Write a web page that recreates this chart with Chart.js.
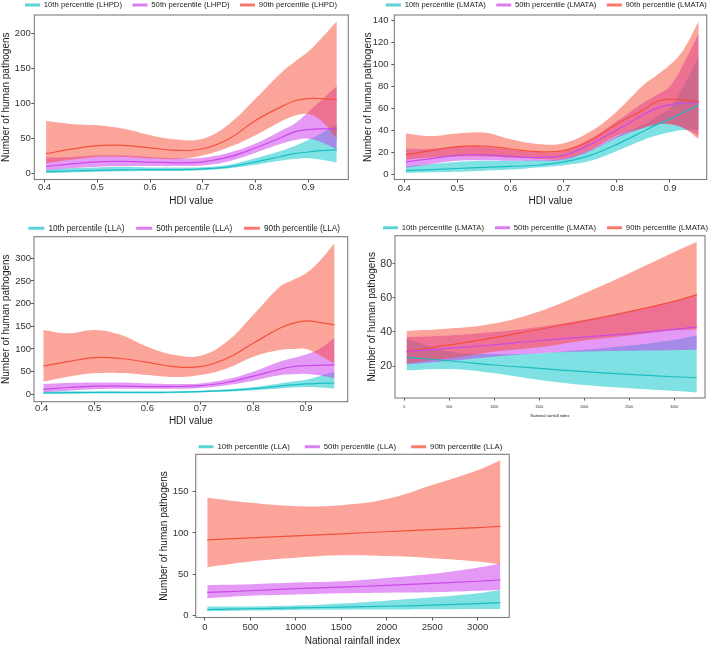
<!DOCTYPE html>
<html><head><meta charset="utf-8">
<script src="https://cdn.jsdelivr.net/npm/chart.js@4.4.1/dist/chart.umd.min.js"></script>
<style>
html,body{margin:0;padding:0;background:#fff;overflow:hidden;width:709px;height:648px;position:relative;}
canvas{position:absolute;display:block;}
</style></head><body>
<script>
// ---------------- DATA ----------------
const HDI_X = [0.403,0.45,0.5,0.55,0.6,0.65,0.7,0.75,0.8,0.85,0.875,0.9,0.925,0.954];
const RAIN_X = [25,500,1000,1500,2000,2500,3000,3250];

const HDI_TICKS = [0.4,0.5,0.6,0.7,0.8,0.9];
const RAIN_TICKS = [0,500,1000,1500,2000,2500,3000];
const LHPD_Y_TICKS = [0,50,100,150,200];
const LMATA_HDI_Y_TICKS = [0,20,40,60,80,100,120,140];
const LLA_HDI_Y_TICKS = [0,50,100,150,200,250,300];
const LMATA_RAIN_Y_TICKS = [20,40,60,80];
const LLA_RAIN_Y_TICKS = [0,50,100,150];

const LEGEND_LHPD = ['10th percentile (LHPD)','50th percentile (LHPD)','90th percentile (LHPD)'];
const LEGEND_LMATA = ['10th percentile (LMATA)','50th percentile (LMATA)','90th percentile (LMATA)'];
const LEGEND_LLA = ['10th percentile (LLA)','50th percentile (LLA)','90th percentile (LLA)'];

const TITLE_Y = 'Number of human pathogens';
const TITLE_HDI = 'HDI value';
const TITLE_RAIN = 'National rainfall index';

// Panel 1: LHPD vs HDI
const LHPD_P10_FIT = [3,4,5,5.5,6,6,7,10,17,25,29,31,33,34];
const LHPD_P10_LO  = [1,2,3,3.5,4,4,5,8,13,19,21,22,20,16];
const LHPD_P10_HI  = [6,8,9,10,9,9,9.5,13,22,33,40,48,58,71];
const LHPD_P50_FIT = [10.5,14,17,17.6,16.7,15.7,17,24,37,52,60,63,64,64];
const LHPD_P50_LO  = [5,8,10,11,11,11,12,18,30,43,48,50,45,35];
const LHPD_P50_HI  = [23,24,26,26,24,22,23,30,43,62,72,88,105,125];
const LHPD_P90_FIT = [28.6,35,40,40.5,37,33.3,35.7,50,76,96,104,107,107,106];
const LHPD_P90_LO  = [15,20,24,24,22,21,26,38,55,75,83,85,75,50];
const LHPD_P90_HI  = [75,71,69,64,55,49,50,71,107,145,160,174,193,217];

// Panel 2: LMATA vs HDI
const LMATA_HDI_P10_FIT = [3,4,5,6,7,8,11,17,27,39,45,50,56,63];
const LMATA_HDI_P10_LO  = [1,1.5,2,3,4,6,8,12,21,31,35,38,40,40];
const LMATA_HDI_P10_HI  = [7,9,11,12,12,12.5,14,22,34,45,52,60,80,107];
const LMATA_HDI_P50_FIT = [11,14,17,17.5,16,15,17,27,40,54,60,63,64.5,65];
const LMATA_HDI_P50_LO  = [6,9,12,12.5,12,12,13,21,33,42,45,46,42,35];
const LMATA_HDI_P50_HI  = [23,23,25,25,22,20,21,32,48,65,72,80,100,128];
const LMATA_HDI_P90_FIT = [17.6,21.3,25,25.5,22.8,20.4,21.3,30.4,45.6,58.4,66,68,67.5,66];
const LMATA_HDI_P90_LO  = [13,15,16,16,15,14,14,22,35,42,45,45,42,32];
const LMATA_HDI_P90_HI  = [37,34.7,37,37.7,31.6,27.4,28,38.6,57,81,90,99.4,113,139];

// Panel 3: LLA vs HDI
const LLA_HDI_P10_FIT = [3,3.5,4,4,4,4.5,6,8,12,18,21,23,24,25];
const LLA_HDI_P10_LO  = [1,1.5,2,2,2,2.5,4,6,9,13,15,16,15,13];
const LLA_HDI_P10_HI  = [6,6.5,7,7,7,7,8,11,16,24,28,32,40,50];
const LLA_HDI_P50_FIT = [11,15,18,18,17,17,19,26,40,55,61,63,64,65];
const LLA_HDI_P50_LO  = [5,8,11,12,12,12,14,20,30,42,44,45,42,35];
const LLA_HDI_P50_HI  = [23,25,26,26,24,23,24,33,50,72,80,88,100,125];
const LLA_HDI_P90_FIT = [62.5,72,81,79,70.6,61,61,79,112.5,145.6,156.6,161.8,158.8,153];
const LLA_HDI_P90_LO  = [28,39,46.3,47,42.6,38,42.6,57,83,97.8,100,100,86.8,68];
const LLA_HDI_P90_HI  = [142,134.6,142,131,105,87,85,116,175,237,252,267,293,333];

// Panel 4: LMATA vs rainfall
const LMATA_RAIN_P10_FIT = [25.1,23.1,20.6,18.6,16.7,15.1,13.7,13.1];
const LMATA_RAIN_P10_LO  = [17.5,18.2,15.7,11.8,8.8,6.9,5.3,4.5];
const LMATA_RAIN_P10_HI  = [36,28.5,27,27.5,29.5,32,35.5,38];
const LMATA_RAIN_P50_FIT = [28.5,30.5,32.5,35,37,39,41.5,43];
const LMATA_RAIN_P50_LO  = [21,23,25.5,27.5,28.5,29,29.3,29.5];
const LMATA_RAIN_P50_HI  = [37,38,40,43,47,52,58,62];
const LMATA_RAIN_P90_FIT = [28.6,32.4,36.7,41.6,46.5,52,58,62];
const LMATA_RAIN_P90_LO  = [21.6,24.5,28.4,31,35,38,41,41.5];
const LMATA_RAIN_P90_HI  = [40.6,42,45,52,62.7,74.5,87,93];

// Panel 5: LLA vs rainfall
const LLA_RAIN_P10_FIT = [7.2,8.2,9.2,10.2,11.2,12.5,14.5,15.7];
const LLA_RAIN_P10_LO  = [5.2,6,6.8,7,7.2,7.5,7.8,8];
const LLA_RAIN_P10_HI  = [11,11,12,14.5,18,22,27,31];
const LLA_RAIN_P50_FIT = [28,30,32.5,34.5,36.5,39,41.5,43];
const LLA_RAIN_P50_LO  = [21,24,25.5,27,27.7,28.2,30,31];
const LLA_RAIN_P50_HI  = [37,38,40,41.5,45.5,50.5,58,63];
const LLA_RAIN_P90_FIT = [91.6,94,96.5,99,101.5,104,106.5,108];
const LLA_RAIN_P90_LO  = [58.6,65.5,70,73,72,69.5,65.5,62];
const LLA_RAIN_P90_HI  = [142.6,136.5,132.5,133.7,141,158,176,188];

// ---------------- STYLE ----------------
const FONT = "'Liberation Sans', Arial, Helvetica, sans-serif";
const COL = [
  {line:'#1dbec2', band:'rgba(0,196,199,0.5)', key:'#5cd3d5'},
  {line:'#c94ae8', band:'rgba(204,51,238,0.5)', key:'#da7cf2'},
  {line:'#f4503c', band:'rgba(248,74,52,0.5)', key:'#f77b6c'}
];
const TENSION = 0.4;

const framePlugin = {
  id:'frame',
  afterDatasetsDraw(chart){
    const a = chart.chartArea, c = chart.ctx;
    c.save();
    c.strokeStyle = '#7d7d7d';
    c.lineWidth = 1.1;
    c.strokeRect(a.left, a.top, a.right - a.left, a.bottom - a.top);
    c.restore();
  }
};

function pts(xs, ys){ return xs.map((x,i)=>({x:x, y:ys[i]})); }

function makePanel(g, d){
  const fs = g.legFont, p = g.legGap;
  const Bw = g.legW + 2*p + 40;
  const boxL = g.legCx - Bw/2, boxR = g.legCx + Bw/2;
  const Tt = g.legCy - p - fs/2;
  const T = Math.floor(Tt);
  const L = Math.floor(Math.min(boxL, g.yTitleX - 10));
  const W = Math.ceil(Math.max(boxR, g.r + 2) - L);
  const H = Math.ceil(g.b + 36 - T);
  const padTop = Tt - T;
  const pl = boxL - L;
  const pr = (L + W) - boxR;
  const legendH = g.t - Tt;
  const yw = g.l - boxL;
  const rw = boxR - g.r;
  const xh = (T + H) - g.b;
  const lhX = 1.2 * g.xTitleFont, lhY = 1.2 * g.yTitleFont;
  const xTitlePad = g.b + xh - lhX/2 - g.xTitleY;
  const yTitlePad = g.yTitleX - boxL - lhY/2;
  const xTickPad = g.xTickCy - (g.b + g.tl + 1.2*g.xTickFont/2);
  const yTickPad = g.l - g.tl - g.yTickRight;

  const cv = document.createElement('canvas');
  cv.width = W; cv.height = H;
  cv.style.left = L + 'px'; cv.style.top = T + 'px';
  cv.style.width = W + 'px'; cv.style.height = H + 'px';
  document.body.appendChild(cv);

  const datasets = [];
  d.series.forEach((s,i)=>{
    datasets.push({label:d.legend[i], data:pts(d.x, s.fit), borderColor:COL[i].line, borderWidth:1.2,
      pointRadius:0, fill:false, tension:TENSION});
  });
  // bands: red, magenta, teal (teal drawn first)
  [2,1,0].forEach(i=>{
    const s = d.series[i];
    const loIdx = datasets.length;
    datasets.push({label:'lo'+i, data:pts(d.x, s.lo), borderWidth:0, borderColor:'rgba(0,0,0,0)',
      pointRadius:0, fill:false, tension:TENSION});
    datasets.push({label:'hi'+i, data:pts(d.x, s.hi), borderWidth:0, borderColor:'rgba(0,0,0,0)',
      backgroundColor:COL[i].band, pointRadius:0, fill:{target:loIdx}, tension:TENSION});
  });

  new Chart(cv, {
    type:'line',
    data:{datasets},
    plugins:[framePlugin],
    options:{
      responsive:false, animation:false, devicePixelRatio:1,
      events:[],
      layout:{padding:{left:pl, right:pr, top:padTop, bottom:0}},
      plugins:{
        filler:{drawTime:'beforeDatasetsDraw', propagate:false},
        tooltip:{enabled:false},
        legend:{
          display:true, position:'top', align:'center', fullSize:true, maxHeight:legendH,
          labels:{
            font:{family:FONT, size:fs}, color:'#222', padding:p,
            usePointStyle:true, pointStyleWidth:g.keyW, boxHeight:fs,
            generateLabels(){
              return d.legend.map((t,i)=>({text:t, fillStyle:COL[i].key, strokeStyle:COL[i].key,
                lineWidth:3, pointStyle:'line', hidden:false, datasetIndex:i, fontColor:'#222'}));
            }
          }
        }
      },
      scales:{
        x:{
          type:'linear', position:'bottom', min:g.xMin, max:g.xMax,
          afterBuildTicks(s){ s.ticks = d.xTicks.map(v=>({value:v})); },
          afterFit(s){ s.height = xh; },
          ticks:{autoSkip:false, maxRotation:0, minRotation:0, padding:xTickPad, color:'#333',
            font:{family:FONT, size:g.xTickFont}, callback:d.xFmt},
          grid:{display:true, drawOnChartArea:false, drawTicks:true, tickLength:g.tl, color:'#555', lineWidth:1},
          border:{display:false},
          title:{display:true, text:d.xTitle, color:'#1a1a1a', font:{family:FONT, size:g.xTitleFont},
            padding:{top:0, bottom:xTitlePad}}
        },
        y:{
          type:'linear', position:'left', min:g.yMin, max:g.yMax,
          afterBuildTicks(s){ s.ticks = d.yTicks.map(v=>({value:v})); },
          afterFit(s){ s.width = yw; },
          ticks:{padding:yTickPad, color:'#333', font:{family:FONT, size:g.yTickFont},
            callback:(v)=>String(v)},
          grid:{display:true, drawOnChartArea:false, drawTicks:true, tickLength:g.tl, color:'#555', lineWidth:1},
          border:{display:false},
          title:{display:true, text:TITLE_Y, color:'#1a1a1a', font:{family:FONT, size:g.yTitleFont},
            padding:{top:yTitlePad, bottom:0}}
        },
        yr:{
          type:'linear', position:'right', display:true,
          grid:{display:false}, ticks:{display:false}, border:{display:false},
          afterFit(s){ s.width = rw; }
        }
      }
    }
  });
}

const fmtHDI = v => Number(v).toFixed(1);
const fmtRain = v => String(v);

// Panel 1
makePanel(
  {l:34.3, r:348.3, t:15, b:179.5, xMin:0.3807, xMax:0.9758, yMin:-8.1, yMax:226,
   legCx:181, legCy:5, legFont:7.7, legGap:10.5, legW:318, keyW:15,
   yTitleX:6.6, xTitleY:201.7, xTickCy:187.5, yTickRight:30.7, tl:3,
   xTickFont:9.5, yTickFont:9.5, xTitleFont:10, yTitleFont:10},
  {x:HDI_X, xTicks:HDI_TICKS, yTicks:LHPD_Y_TICKS, xFmt:fmtHDI, xTitle:TITLE_HDI, legend:LEGEND_LHPD,
   series:[{fit:LHPD_P10_FIT, lo:LHPD_P10_LO, hi:LHPD_P10_HI},
           {fit:LHPD_P50_FIT, lo:LHPD_P50_LO, hi:LHPD_P50_HI},
           {fit:LHPD_P90_FIT, lo:LHPD_P90_LO, hi:LHPD_P90_HI}]});

// Panel 2
makePanel(
  {l:394.3, r:706.7, t:15, b:179.5, xMin:0.3812, xMax:0.9691, yMin:-5, yMax:144.8,
   legCx:546.3, legCy:5, legFont:7.6, legGap:10.5, legW:317, keyW:15,
   yTitleX:368.3, xTitleY:201, xTickCy:188, yTickRight:388.5, tl:3,
   xTickFont:9.5, yTickFont:9.5, xTitleFont:10, yTitleFont:10},
  {x:HDI_X, xTicks:HDI_TICKS, yTicks:LMATA_HDI_Y_TICKS, xFmt:fmtHDI, xTitle:TITLE_HDI, legend:LEGEND_LMATA,
   series:[{fit:LMATA_HDI_P10_FIT, lo:LMATA_HDI_P10_LO, hi:LMATA_HDI_P10_HI},
           {fit:LMATA_HDI_P50_FIT, lo:LMATA_HDI_P50_LO, hi:LMATA_HDI_P50_HI},
           {fit:LMATA_HDI_P90_FIT, lo:LMATA_HDI_P90_LO, hi:LMATA_HDI_P90_HI}]});

// Panel 3
makePanel(
  {l:34.0, r:347.7, t:236.7, b:401.7, xMin:0.3854, xMax:0.9789, yMin:-16.3, yMax:347.7,
   legCx:184.2, legCy:228.3, legFont:8.2, legGap:11.7, legW:312, keyW:16,
   yTitleX:6.5, xTitleY:421, xTickCy:408.3, yTickRight:31, tl:3,
   xTickFont:9.5, yTickFont:9.5, xTitleFont:10, yTitleFont:10},
  {x:HDI_X, xTicks:HDI_TICKS, yTicks:LLA_HDI_Y_TICKS, xFmt:fmtHDI, xTitle:TITLE_HDI, legend:LEGEND_LLA,
   series:[{fit:LLA_HDI_P10_FIT, lo:LLA_HDI_P10_LO, hi:LLA_HDI_P10_HI},
           {fit:LLA_HDI_P50_FIT, lo:LLA_HDI_P50_LO, hi:LLA_HDI_P50_HI},
           {fit:LLA_HDI_P90_FIT, lo:LLA_HDI_P90_LO, hi:LLA_HDI_P90_HI}]});

// Panel 4
makePanel(
  {l:395, r:705, t:235.7, b:398, xMin:-103, xMax:3341, yMin:1.2, yMax:96.6,
   legCx:545.5, legCy:227.7, legFont:7.7, legGap:11, legW:324, keyW:15,
   yTitleX:372, xTitleY:416, xTickCy:406.7, yTickRight:392, tl:2.5,
   xTickFont:3.7, yTickFont:10.5, xTitleFont:4.1, yTitleFont:10},
  {x:RAIN_X, xTicks:RAIN_TICKS, yTicks:LMATA_RAIN_Y_TICKS, xFmt:fmtRain, xTitle:TITLE_RAIN, legend:LEGEND_LMATA,
   series:[{fit:LMATA_RAIN_P10_FIT, lo:LMATA_RAIN_P10_LO, hi:LMATA_RAIN_P10_HI},
           {fit:LMATA_RAIN_P50_FIT, lo:LMATA_RAIN_P50_LO, hi:LMATA_RAIN_P50_HI},
           {fit:LMATA_RAIN_P90_FIT, lo:LMATA_RAIN_P90_LO, hi:LMATA_RAIN_P90_HI}]});

// Panel 5
makePanel(
  {l:195.7, r:509.3, t:454.3, b:617.5, xMin:-102, xMax:3348, yMin:-2.4, yMax:195.3,
   legCx:350.5, legCy:446.7, legFont:7.8, legGap:15, legW:304, keyW:15,
   yTitleX:164, xTitleY:641.7, xTickCy:627.5, yTickRight:188.5, tl:3,
   xTickFont:9.5, yTickFont:9.5, xTitleFont:10, yTitleFont:10},
  {x:RAIN_X, xTicks:RAIN_TICKS, yTicks:LLA_RAIN_Y_TICKS, xFmt:fmtRain, xTitle:TITLE_RAIN, legend:LEGEND_LLA,
   series:[{fit:LLA_RAIN_P10_FIT, lo:LLA_RAIN_P10_LO, hi:LLA_RAIN_P10_HI},
           {fit:LLA_RAIN_P50_FIT, lo:LLA_RAIN_P50_LO, hi:LLA_RAIN_P50_HI},
           {fit:LLA_RAIN_P90_FIT, lo:LLA_RAIN_P90_LO, hi:LLA_RAIN_P90_HI}]});
</script>
</body></html>
